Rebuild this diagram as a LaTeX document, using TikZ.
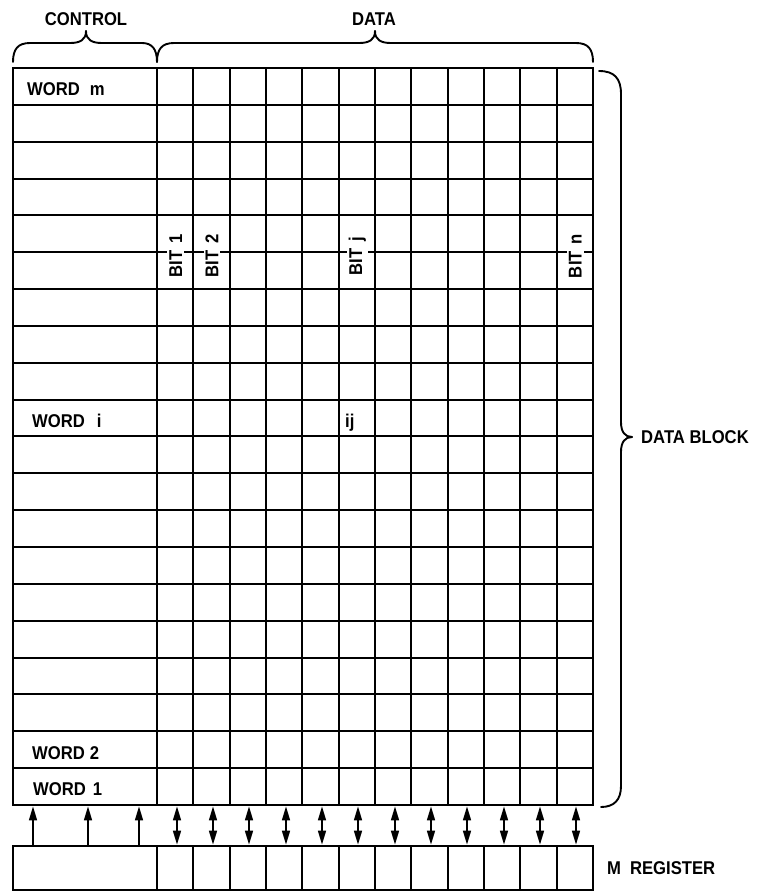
\documentclass[tikz,border=0pt]{standalone}
\usepackage{fontspec}
\setmainfont{Liberation Sans}[FakeStretch=0.9]
\usetikzlibrary{arrows.meta}
\begin{document}
\begin{tikzpicture}[x=1pt,y=-1pt,
  lbl/.style={font=\bfseries\fontsize{18.5}{21}\selectfont, inner sep=0pt},
  cellline/.style={line width=2pt},
  frame/.style={line width=2.8pt, line join=miter},
  bracestroke/.style={line width=1.9pt, line cap=round},
  uparrow/.style={line width=1.6pt, -{Triangle[length=14pt,width=8pt]}},
  duparrow/.style={line width=1.6pt, {Triangle[length=14pt,width=8pt]}-{Triangle[length=14pt,width=8pt]}},
  bitlbl/.style={lbl, rotate=90, fill=white, inner sep=2pt}
]
\useasboundingbox (0,0) rectangle (756,892);

\pgfmathsetmacro\cw{(593-157)/12}
\pgfmathsetmacro\rh{(805-68)/20}

% data block grid
\foreach \r in {1,...,19} {
  \pgfmathsetmacro\yy{round(68+\r*\rh)}
  \draw[cellline] (13,\yy) -- (593,\yy);
}
\foreach \k in {0,...,11} {
  \pgfmathsetmacro\xx{round(157+\k*\cw)}
  \draw[cellline] (\xx,68) -- (\xx,805);
  \draw[cellline] (\xx,846) -- (\xx,890);
}
\draw[frame] (13,68) rectangle (593,805);

% M register
\draw[frame] (13,846) rectangle (593,890);

% arrows
\foreach \x [count=\i] in {33,88,139} {
  \coordinate (cr\i) at (\x,844.6);
  \coordinate (cb\i) at (\x,806.4);
  \draw[uparrow] (cr\i) -- (cb\i);
}
\foreach \k in {0,...,11} {
  \pgfmathsetmacro\xx{round(157+(\k+0.5)*\cw+1.5)}
  \coordinate (dr\k) at (\xx,844.6);
  \coordinate (db\k) at (\xx,806.4);
  \draw[duparrow] (dr\k) -- (db\k);
}

% top braces
\draw[bracestroke] (13,62) .. controls (13,49) and (18,43) .. (30,43) -- (70,43) .. controls (80,43) and (86,40) .. (86,31);
\draw[bracestroke] (86,31) .. controls (86,40) and (92,43) .. (102,43) -- (142,43) .. controls (152,43) and (157,49) .. (157,62);
\draw[bracestroke] (157,62) .. controls (157,49) and (162,43) .. (174,43) -- (359,43) .. controls (369,43) and (375,40) .. (375,31);
\draw[bracestroke] (375,31) .. controls (375,40) and (381,43) .. (391,43) -- (576,43) .. controls (588,43) and (593,49) .. (593,62);

% right brace
\draw[bracestroke] (599,71) .. controls (614,71) and (621,78) .. (621,94) -- (621,422) .. controls (621,432) and (625,437) .. (632,437);
\draw[bracestroke] (632,437) .. controls (625,437) and (621,442) .. (621,452) -- (621,786) .. controls (621,800) and (614,807) .. (601,807);

% labels
\node[lbl] (control) at (86,19) {CONTROL};
\node[lbl] (data) at (374,19) {DATA};
\node[lbl, anchor=base west] (wordm) at (27,95) {WORD\hspace{10pt}m};
\node[lbl, anchor=base west] (wordi) at (32,427) {WORD\hspace{12pt}i};
\node[lbl, anchor=base west] (word2) at (32,759) {WORD\hspace{5pt}2};
\node[lbl, anchor=base west] (word1) at (33,795) {WORD\hspace{7pt}1};
\node[lbl, anchor=base west] (ij) at (345,427) {ij};
\node[lbl, anchor=west] (datablock) at (641,437) {DATA BLOCK};
\node[lbl, anchor=west] (mreg) at (607,868) {M\hspace{9pt}REGISTER};

\foreach \k/\bitname in {0/1, 1/2, 5/j, 11/n} {
  \pgfmathsetmacro\xx{157+(\k+0.5)*\cw+0.5}
  \node[bitlbl] (bit\k) at (\xx,256) {BIT\hspace{7pt}\bitname};
}
\end{tikzpicture}
\end{document}
